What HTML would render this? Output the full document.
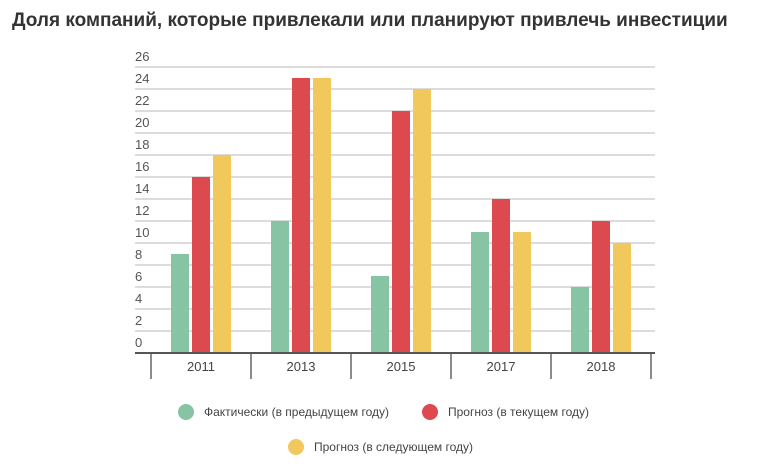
<!DOCTYPE html>
<html><head><meta charset="utf-8"><style>
body{margin:0;background:#fff;width:775px;height:468px;overflow:hidden;font-family:"Liberation Sans","Noto Sans CJK SC",sans-serif}
</style></head><body>
<svg id="c" width="775" height="468">
<text x="12" y="26" font-size="19" font-weight="bold" fill="#333">Доля компаний, которые привлекали или планируют привлечь инвестиции</text>
</svg>
<script>
const categories=["2011","2013","2015","2017","2018"];
const actual=[9,12,7,11,6];
const currentForecast=[16,25,22,14,12];
const nextForecast=[18,25,24,11,10];
const ticks=[0,2,4,6,8,10,12,14,16,18,20,22,24,26];
const seriesNames=["Фактически (в предыдущем году)","Прогноз (в текущем году)","Прогноз (в следующем году)"];
const colors=["#86c4a3","#dc4a50","#f0c85c"];
const svg=document.getElementById('c');
const NS='http://www.w3.org/2000/svg';
function mk(t,a){const e=document.createElementNS(NS,t);for(const k in a)e.setAttribute(k,a[k]);svg.appendChild(e);return e;}
const y0=353,pu=11;
const y=v=>y0-v*pu;
const x=i=>201+i*100;
ticks.forEach(t=>{
  if(t>0){const l=mk('line',{x1:135,x2:655,y1:y(t),y2:y(t),stroke:'#d0d0d0','stroke-width':1.5});
  
  }
  const tx=mk('text',{x:135,y:y(t)-6,'font-size':13,fill:'#555'});tx.textContent=t;
  
  
});
const series=[actual,currentForecast,nextForecast];
categories.forEach((c,i)=>{
  series.forEach((s,j)=>{
    const cx=x(i)+(j-1)*21;
    const r=mk('rect',{x:cx-9,y:y(s[j===0?i:i]),width:18,height:s[i]*pu,fill:colors[j]});
    r.setAttribute('y',y(s[i]));
    
    
  });
  const t=mk('text',{x:x(i),y:371,'font-size':13,fill:'#444','text-anchor':'middle'});t.textContent=c;
  
  
});
for(let k=0;k<=5;k++){const l=mk('line',{x1:151+k*100,x2:151+k*100,y1:353,y2:379,stroke:'#666','stroke-width':1.5});

}
const ax=mk('line',{x1:135,x2:655,y1:353,y2:353,stroke:'#555','stroke-width':2});


const lg=[[186,412],[430,412],[296,447]];
seriesNames.forEach((n,j)=>{
  const c=mk('circle',{cx:lg[j][0],cy:lg[j][1],r:8,fill:colors[j]});
  
  
  const t=mk('text',{x:lg[j][0]+18,y:lg[j][1]+4,'font-size':12,fill:'#444'});t.textContent=n;
  
  
});
</script>
</body></html>
